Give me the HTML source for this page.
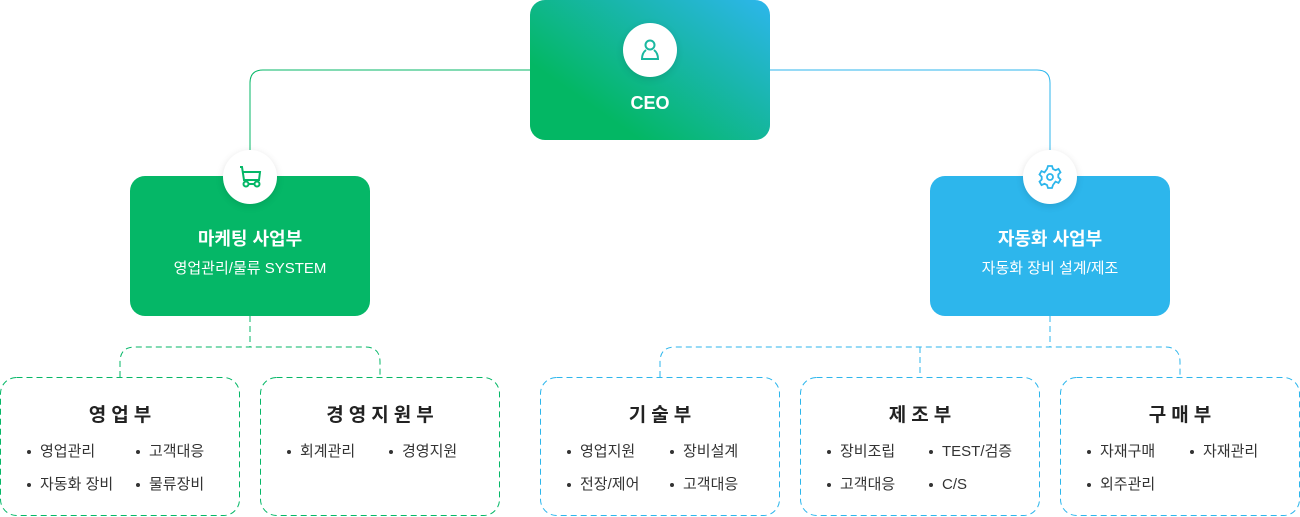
<!DOCTYPE html>
<html><head><meta charset="utf-8"><style>
*{margin:0;padding:0;box-sizing:border-box}
body{width:1300px;height:517px;background:#fff;position:relative;overflow:hidden;font-family:"Liberation Sans","Noto Sans CJK KR",sans-serif}
.a{position:absolute}
.box{position:absolute;border-radius:15px;color:#fff;text-align:center}
.t{font-weight:bold;font-size:18px}
.s{font-size:15px}
.circ{position:absolute;width:54px;height:54px;border-radius:50%;background:#fff;box-shadow:0 2px 8px rgba(0,0,0,.12);display:flex;align-items:center;justify-content:center}
.st{position:absolute;top:400px;font-weight:bold;font-size:19px;color:#222;letter-spacing:5px;text-align:center;padding-left:5px}
.li{position:absolute;font-size:15px;color:#333;white-space:nowrap;line-height:20px}
.li:before{content:"";position:absolute;left:-13px;top:8px;width:4px;height:4px;border-radius:50%;background:#333}
</style></head><body>
<svg class="a" style="left:0;top:0" width="1300" height="517">
<path d="M530 70 H263 Q250 70 250 83 V150" fill="none" stroke="#05b767" stroke-width="1"/>
<path d="M770 70 H1037 Q1050 70 1050 83 V150" fill="none" stroke="#2db6ec" stroke-width="1"/>
<g fill="none" stroke="#05b767" stroke-dasharray="6,4">
<path d="M250 316 V347"/>
<path d="M120 377 V362 Q120 347 135 347 H365 Q380 347 380 362 V377"/>
<rect x="0.5" y="377.5" width="239" height="138" rx="16"/>
<rect x="260.5" y="377.5" width="239" height="138" rx="16"/>
</g>
<g fill="none" stroke="#2db6ec" stroke-dasharray="6,4">
<path d="M1050 316 V347"/>
<path d="M660 377 V362 Q660 347 675 347 H1165 Q1180 347 1180 362 V377"/>
<path d="M920 347 V377"/>
<rect x="540.5" y="377.5" width="239" height="138" rx="16"/>
<rect x="800.5" y="377.5" width="239" height="138" rx="16"/>
<rect x="1060.5" y="377.5" width="239" height="138" rx="16"/>
</g>
</svg>
<div class="box" style="left:530px;top:0;width:240px;height:140px;background:linear-gradient(35deg,#03b764 25%,#2db6ec 100%)">
<div class="a" style="left:0;width:240px;top:93px;font-weight:bold;font-size:18px">CEO</div></div>
<div class="circ" style="left:623px;top:23px">
<svg width="26" height="26" viewBox="0 0 26 26" fill="none" stroke="#1ab8a0" stroke-width="2"><circle cx="13" cy="8" r="4.5"/><path d="M9 13 Q5 16 5 22 H21 Q21 16 17 13"/></svg></div>

<div class="box" style="left:130px;top:176px;width:240px;height:140px;background:#05b767">
<div class="a t" style="left:0;width:240px;top:49px">마케팅 사업부</div>
<div class="a s" style="left:0;width:240px;top:81px">영업관리/물류 SYSTEM</div></div>
<div class="circ" style="left:223px;top:150px">
<svg width="28" height="28" viewBox="0 0 28 28" fill="none" stroke="#05b767" stroke-width="2"><path d="M4 4 H6 L8 17 H23 L24 9 H7"/><circle cx="10" cy="21" r="2.5"/><circle cx="21" cy="21" r="2.5"/><path d="M12 21 H19"/></svg></div>

<div class="box" style="left:930px;top:176px;width:240px;height:140px;background:#2db6ec">
<div class="a t" style="left:0;width:240px;top:49px">자동화 사업부</div>
<div class="a s" style="left:0;width:240px;top:81px">자동화 장비 설계/제조</div></div>
<div class="circ" style="left:1023px;top:150px">
<svg width="28" height="28" viewBox="0 0 28 28" fill="none" stroke="#2db6ec" stroke-width="1.8"><path d="M12 3h4l1 3 2.5 1.2 3-1.3 2 3.4-2.2 2.2v2.8l2.2 2.2-2 3.4-3-1.3L17 22l-1 3h-4l-1-3-2.5-1.2-3 1.3-2-3.4 2.2-2.2v-2.8L3.5 11.5l2-3.4 3 1.3L11 6z"/><circle cx="14" cy="14" r="3"/></svg></div>

<div class="st" style="left:0;width:240px">영업부</div>
<div class="li" style="left:40px;top:442px">영업관리</div><div class="li" style="left:149px;top:442px">고객대응</div>
<div class="li" style="left:40px;top:475px">자동화 장비</div><div class="li" style="left:149px;top:475px">물류장비</div>

<div class="st" style="left:260px;width:240px">경영지원부</div>
<div class="li" style="left:300px;top:442px">회계관리</div><div class="li" style="left:402px;top:442px">경영지원</div>

<div class="st" style="left:540px;width:240px">기술부</div>
<div class="li" style="left:580px;top:442px">영업지원</div><div class="li" style="left:683px;top:442px">장비설계</div>
<div class="li" style="left:580px;top:475px">전장/제어</div><div class="li" style="left:683px;top:475px">고객대응</div>

<div class="st" style="left:800px;width:240px">제조부</div>
<div class="li" style="left:840px;top:442px">장비조립</div><div class="li" style="left:942px;top:442px">TEST/검증</div>
<div class="li" style="left:840px;top:475px">고객대응</div><div class="li" style="left:942px;top:475px">C/S</div>

<div class="st" style="left:1060px;width:240px">구매부</div>
<div class="li" style="left:1100px;top:442px">자재구매</div><div class="li" style="left:1203px;top:442px">자재관리</div>
<div class="li" style="left:1100px;top:475px">외주관리</div>
</body></html>
